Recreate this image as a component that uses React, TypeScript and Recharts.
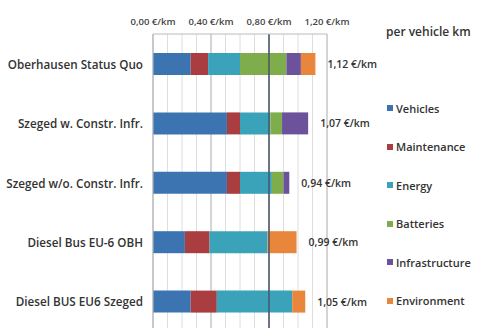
import React from "react";
import { BarChart, Bar, XAxis, YAxis, ReferenceLine, LabelList, CartesianGrid } from "recharts";

const categories = [
  "Oberhausen Status Quo",
  "Szeged w. Constr. Infr.",
  "Szeged w/o. Constr. Infr.",
  "Diesel Bus EU-6 OBH",
  "Diesel BUS EU6 Szeged",
];
const vehicles = [0.26, 0.51, 0.51, 0.22, 0.26];
const maintenance = [0.12, 0.09, 0.09, 0.17, 0.18];
const energy = [0.22, 0.21, 0.22, 0.40, 0.52];
const batteries = [0.32, 0.08, 0.08, 0, 0];
const infrastructure = [0.10, 0.18, 0.04, 0, 0];
const environment = [0.10, 0, 0, 0.20, 0.09];
const totalLabels = ["1,12 €/km", "1,07 €/km", "0,94 €/km", "0,99 €/km", "1,05 €/km"];
const xTicks = [0, 0.4, 0.8, 1.2];
const minorTicks = [0.1, 0.2, 0.3, 0.5, 0.6, 0.7, 0.9, 1.0, 1.1];
const highlightTick = 0.8;
const legendTitle = "per vehicle km";

const series = [
  { key: "Vehicles", values: vehicles, color: "#3c74b1" },
  { key: "Maintenance", values: maintenance, color: "#a93d3f" },
  { key: "Energy", values: energy, color: "#3ba3b9" },
  { key: "Batteries", values: batteries, color: "#80ad4c" },
  { key: "Infrastructure", values: infrastructure, color: "#6c529b" },
  { key: "Environment", values: environment, color: "#e8863c" },
];

const totals = categories.map((_, i) => series.reduce((acc, s) => acc + s.values[i], 0));

const data = categories.map((c, i) => {
  const row: Record<string, number | string> = { name: c };
  series.forEach((s) => (row[s.key] = s.values[i]));
  return row;
});

const fmt = (v: number) => v.toFixed(2).replace(".", ",") + " €/km";
const font = "'Open Sans', sans-serif";

// Label placed at the end of the whole stack, computed from the Vehicles bar's own scale
const TotalLabel = (props: any) => {
  const { x, y, width, height, index } = props;
  const pxPerUnit = Number(width) / vehicles[index];
  const endX = Number(x) + pxPerUnit * totals[index];
  return (
    <text
      x={endX + 12}
      y={Number(y) + Number(height) / 2}
      dominantBaseline="central"
      fontSize={10.5}
      fontFamily={font}
      fontWeight={600}
      fill="#333"
    >
      {totalLabels[index]}
    </text>
  );
};

const CatTick = (props: any) => {
  const { x, y, payload } = props;
  return (
    <text
      x={x}
      y={y}
      textAnchor="end"
      dominantBaseline="central"
      fontSize={11.7}
      fontFamily={font}
      fontWeight={600}
      fill="#333"
    >
      {payload.value}
    </text>
  );
};

export default function App() {
  const anyZ: any = { zIndex: -50 };
  return (
    <div style={{ position: "absolute", left: 0, top: 0, width: 494, height: 328, background: "#fff", overflow: "hidden" }}>
      <BarChart
        width={494}
        height={328}
        data={data}
        layout="vertical"
        margin={{ top: 4, right: 167, bottom: -3, left: 0 }}
        barSize={22}
      >
        <CartesianGrid horizontal={false} stroke="#aaaaaa" />
        {minorTicks.map((t) => (
          <ReferenceLine key={"m" + t} x={t} stroke="#dedede" strokeWidth={1} {...anyZ} />
        ))}
        <XAxis
          type="number"
          orientation="top"
          domain={[0, 1.2]}
          ticks={xTicks}
          tickFormatter={fmt}
          height={30}
          tickSize={0}
          tickMargin={9}
          axisLine={{ stroke: "#bbb" }}
          tick={{ fontSize: 9.5, fontFamily: font, fontWeight: 600, fill: "#444" }}
          interval={0}
        />
        <YAxis
          type="category"
          dataKey="name"
          width={153}
          tickSize={0}
          tickMargin={10}
          axisLine={{ stroke: "#bbb" }}
          tick={<CatTick />}
          interval={0}
        />
        {series.map((s, i) => (
          <Bar key={s.key} dataKey={s.key} stackId="a" fill={s.color} isAnimationActive={false}>
            {i === 0 && <LabelList dataKey="Vehicles" content={TotalLabel} />}
          </Bar>
        ))}
        <ReferenceLine x={highlightTick} stroke="#4a5468" strokeWidth={1.5} />
      </BarChart>
      <div
        style={{
          position: "absolute",
          left: 386,
          top: 23,
          fontFamily: font,
          fontSize: 12,
          fontWeight: 600,
          color: "#333",
          whiteSpace: "nowrap",
        }}
      >
        {legendTitle}
      </div>
      {series.map((s, i) => (
        <div
          key={s.key}
          style={{
            position: "absolute",
            left: 387,
            top: 100 + i * 38.5,
            height: 16,
            display: "flex",
            alignItems: "center",
            fontFamily: font,
            fontSize: 11,
            fontWeight: 600,
            color: "#333",
            whiteSpace: "nowrap",
          }}
        >
          <span style={{ display: "inline-block", width: 6, height: 6, background: s.color, marginRight: 3 }} />
          {s.key}
        </div>
      ))}
    </div>
  );
}
